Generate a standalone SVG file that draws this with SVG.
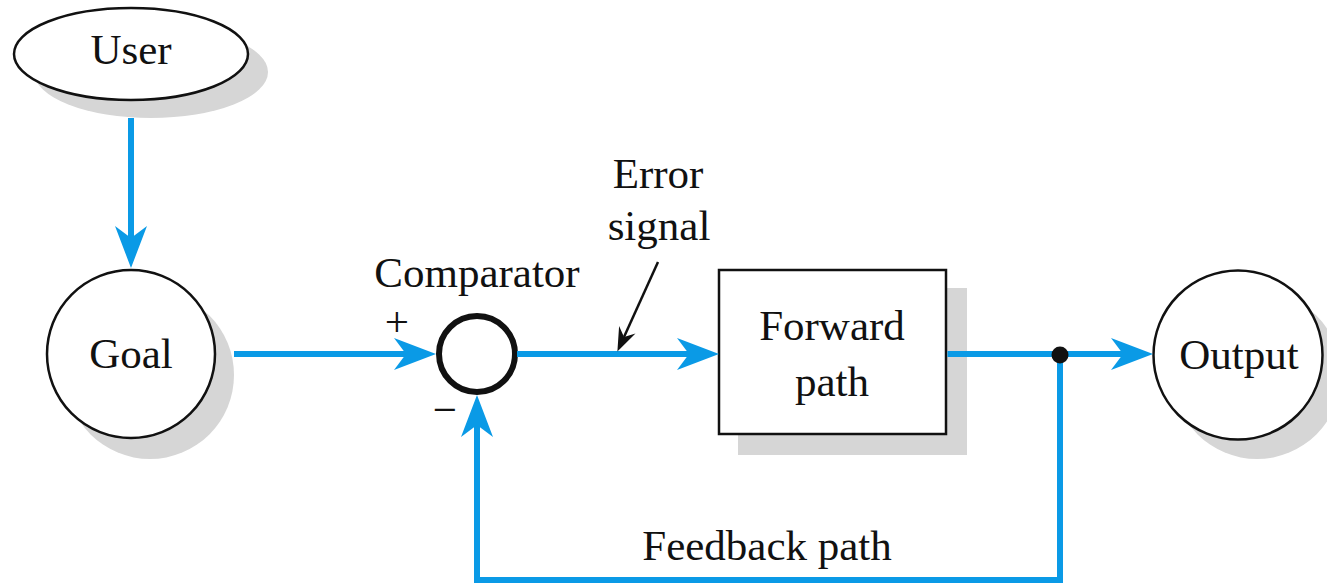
<svg xmlns="http://www.w3.org/2000/svg" width="1327" height="585" viewBox="0 0 1327 585">
  <style>
    .lbl { font-family: "Liberation Serif", "Times New Roman", serif; font-size: 43px; fill: #111; text-anchor: middle; }
    .shadow { fill: #d6d6d6; stroke: none; }
    .node { fill: #fff; stroke: #111; stroke-width: 2.5; }
    .flow { fill: none; stroke: #0a9ae6; stroke-width: 6; }
    .pointer { fill: none; stroke: #111; stroke-width: 2.5; }
  </style>
  <defs>
    <marker id="blueArrow" markerUnits="userSpaceOnUse" viewBox="-14 -18 46 36" markerWidth="46" markerHeight="36" refX="0" refY="0" orient="auto" overflow="visible">
      <path d="M30,0 L-12,-16 L0,0 L-12,16 Z" fill="#0a9ae6"/>
    </marker>
    <marker id="blackArrow" markerUnits="userSpaceOnUse" viewBox="-10 -10 30 20" markerWidth="30" markerHeight="20" refX="0" refY="0" orient="auto" overflow="visible">
      <path d="M16,0 L-8,-9 L0,0 L-8,9 Z" fill="#111"/>
    </marker>
  </defs>
  <rect width="1327" height="585" fill="#fff"/>

  <g id="user">
    <ellipse class="shadow" cx="151" cy="72" rx="117" ry="46"/>
    <ellipse class="node" cx="131" cy="54" rx="117" ry="46"/>
    <text class="lbl" x="131" y="64">User</text>
  </g>

  <g id="goal">
    <circle class="shadow" cx="150" cy="375" r="84"/>
    <circle class="node" cx="131" cy="354" r="84"/>
    <text class="lbl" x="131" y="368">Goal</text>
  </g>

  <g id="comparator">
    <circle cx="477" cy="354" r="38" fill="#fff" stroke="#111" stroke-width="6"/>
    <text class="lbl" x="477" y="287">Comparator</text>
    <text class="lbl" x="397" y="336">+</text>
    <text class="lbl" x="445" y="424">−</text>
  </g>

  <g id="error-signal">
    <text class="lbl" x="658" y="188">Error</text>
    <text class="lbl" x="659" y="240">signal</text>
  </g>

  <g id="forward-path">
    <rect class="shadow" x="738" y="288" width="229" height="167"/>
    <rect class="node" x="719" y="270" width="227" height="164" stroke-width="3"/>
    <text class="lbl" x="832" y="340">Forward</text>
    <text class="lbl" x="832" y="396">path</text>
  </g>

  <g id="output">
    <circle class="shadow" cx="1257" cy="375" r="84"/>
    <circle class="node" cx="1238" cy="355" r="84.5"/>
    <text class="lbl" x="1239" y="369">Output</text>
  </g>

  <g id="feedback-label">
    <text class="lbl" x="767" y="560">Feedback path</text>
  </g>

  <g id="connectors">
    <path class="flow" d="M131,118 V238" marker-end="url(#blueArrow)"/>
    <path class="flow" d="M234,354 H406" marker-end="url(#blueArrow)"/>
    <path class="flow" d="M517,354 H689" marker-end="url(#blueArrow)"/>
    <path class="flow" d="M947.5,354 H1123" marker-end="url(#blueArrow)"/>
    <path class="flow" d="M1060,354 V580 H477 V425" marker-end="url(#blueArrow)"/>
    <circle cx="1060" cy="355" r="8.5" fill="#111"/>
    <path class="pointer" d="M658,262 L624,337" marker-end="url(#blackArrow)"/>
  </g>
</svg>
